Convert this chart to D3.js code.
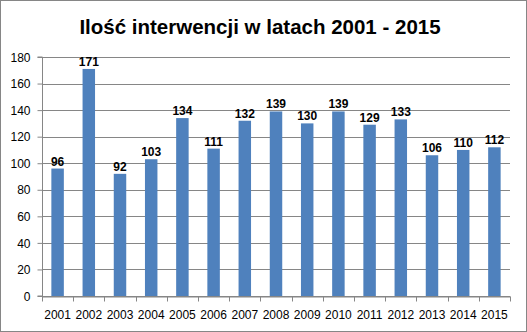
<!DOCTYPE html>
<html><head><meta charset="utf-8">
<script src="https://cdnjs.cloudflare.com/ajax/libs/d3/7.8.5/d3.min.js"></script>
<style>body{margin:0;background:#fff}svg{display:block}</style>
</head><body>
<script>
const years = ["2001","2002","2003","2004","2005","2006","2007","2008","2009","2010","2011","2012","2013","2014","2015"];
const values = [96,171,92,103,134,111,132,139,130,139,129,133,106,110,112];
const yTicks = [0,20,40,60,80,100,120,140,160,180];
const title = "Ilość interwencji w latach 2001 - 2015";

const W = 527, H = 332;
const m = {left: 42, right: 17, top: 57, bottom: 36};
const svg = d3.select("body").append("svg").attr("width", W).attr("height", H);
svg.append("rect").attr("x",0.5).attr("y",0.5).attr("width",W-1).attr("height",H-1)
  .attr("fill","#fff").attr("stroke","#868686");

const x = d3.scaleBand().domain(years).range([m.left, W - m.right]).paddingInner(0.6).paddingOuter(0.3);
const y = d3.scaleLinear().domain([0,180]).range([H - m.bottom, m.top]);

const font = "'Liberation Sans', Arial, sans-serif";

// gridlines
svg.append("g").selectAll("line").data(yTicks).join("line")
  .attr("x1", m.left).attr("x2", W - m.right)
  .attr("y1", d => Math.round(y(d)) + 0.5).attr("y2", d => Math.round(y(d)) + 0.5)
  .attr("stroke", "#868686").attr("stroke-width", 1);

// bars
svg.append("g").selectAll("rect").data(values).join("rect")
  .attr("x", (d,i) => x(years[i])).attr("width", x.bandwidth())
  .attr("y", d => y(d)).attr("height", d => y(0) - y(d))
  .attr("fill", "#4F81BD");

// labels
svg.append("g").selectAll("text").data(values).join("text")
  .attr("x", (d,i) => x(years[i]) + x.bandwidth()/2).attr("y", d => y(d) - 3)
  .attr("text-anchor","middle").attr("font-family", font).attr("font-weight","bold")
  .attr("font-size", 12).attr("fill","#000").text(d => d);

// y axis
const ya = svg.append("g").attr("transform", `translate(${m.left + 0.5},0)`)
  .call(d3.axisLeft(y).tickValues(yTicks).tickSize(5).tickPadding(7));
ya.select(".domain").attr("stroke","#868686").attr("d", `M-5,${y(180)}H0V${y(0)}H-5`);
ya.selectAll(".tick line").attr("stroke","#868686");
ya.selectAll("text").attr("font-family", font).attr("font-size", 12).attr("fill","#000").attr("dy","0.35em");

// x axis
const xa = svg.append("g").attr("transform", `translate(0,${Math.round(y(0)) + 0.5})`)
  .call(d3.axisBottom(x).tickSize(0).tickPadding(14));
xa.select(".domain").attr("stroke","#868686");
xa.selectAll("text").attr("font-family", font).attr("font-size", 12).attr("fill","#000");
const step = x.step();
xa.append("g").selectAll("line").data(d3.range(years.length + 1)).join("line")
  .attr("x1", i => Math.round(m.left + i*step) + 0.5).attr("x2", i => Math.round(m.left + i*step) + 0.5)
  .attr("y1", 0).attr("y2", 5).attr("stroke","#868686");

// title
svg.append("text").attr("x", 260).attr("y", 34).attr("text-anchor","middle")
  .attr("font-family", font).attr("font-weight","bold").attr("font-size", 20.5).attr("fill","#000")
  .text(title);
</script>
</body></html>
